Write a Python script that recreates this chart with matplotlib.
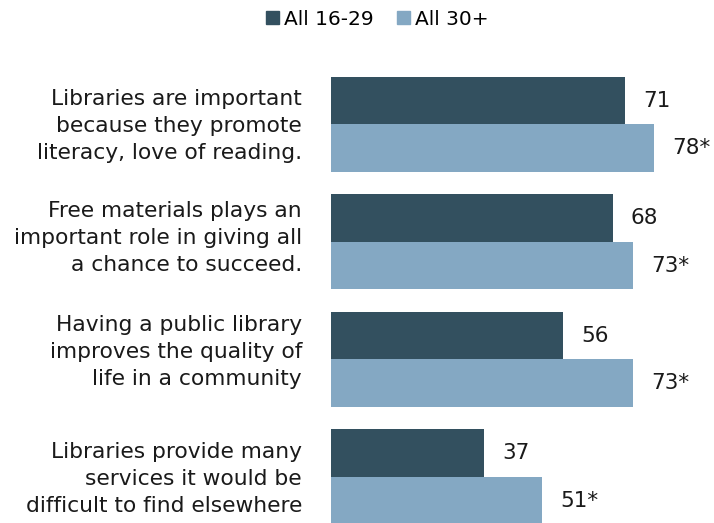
import matplotlib
matplotlib.use("Agg")
import matplotlib.pyplot as plt
from matplotlib.patches import Patch
import numpy as np

categories = [
    "Libraries are important\nbecause they promote\nliteracy, love of reading.",
    "Free materials plays an\nimportant role in giving all\na chance to succeed.",
    "Having a public library\nimproves the quality of\nlife in a community",
    "Libraries provide many\nservices it would be\ndifficult to find elsewhere",
]
young = [71, 68, 56, 37]
older = [78, 73, 73, 51]
older_labels = ["78*", "73*", "73*", "51*"]
series_names = ["All 16-29", "All 30+"]

DARK, LIGHT = "#33505f", "#84a8c3"
H = 0.405
# small vertical nudges (pixels) for the category labels, as in the original
label_nudge = [-2, 4, 7, -2]

plt.rcParams["font.family"] = ["DejaVu Sans"]

fig = plt.figure(figsize=(7.14, 5.23), dpi=100)
ax = fig.add_axes([331 / 714, 0.0, 1 - 331 / 714, 1.0])

y = np.arange(len(categories))
ax.barh(y - H / 2, young, height=H, color=DARK)
ax.barh(y + H / 2, older, height=H, color=LIGHT)

for yi, v in zip(y, young):
    ax.annotate(str(v), (v, yi - H / 2), xytext=(18, 0), textcoords="offset pixels",
                va="center", ha="left", fontsize=15.5, color="#1a1a1a")
for yi, v, lab in zip(y, older, older_labels):
    ax.annotate(lab, (v, yi + H / 2), xytext=(18, 0), textcoords="offset pixels",
                va="center", ha="left", fontsize=15.5, color="#1a1a1a")

for yi, cat, dy in zip(y, categories, label_nudge):
    ax.annotate(cat, (0, yi), xytext=(-29, dy), textcoords="offset pixels",
                va="center", ha="right", fontsize=15.7, color="#1a1a1a",
                linespacing=1.43, annotation_clip=False)

ax.set_xlim(0, 383 / 4.14)
ax.set_ylim(3.393, -1.058)
ax.set_axis_off()

handles = [Patch(color=DARK), Patch(color=LIGHT)]
fig.legend(handles, series_names, loc="center", bbox_to_anchor=(0.528, 0.963),
           ncol=2, frameon=False, fontsize=14.5, handlelength=0.65,
           handleheight=0.65, handletextpad=0.25, columnspacing=1.15,
           borderpad=0, borderaxespad=0)

fig.savefig("out.png", dpi=100)
